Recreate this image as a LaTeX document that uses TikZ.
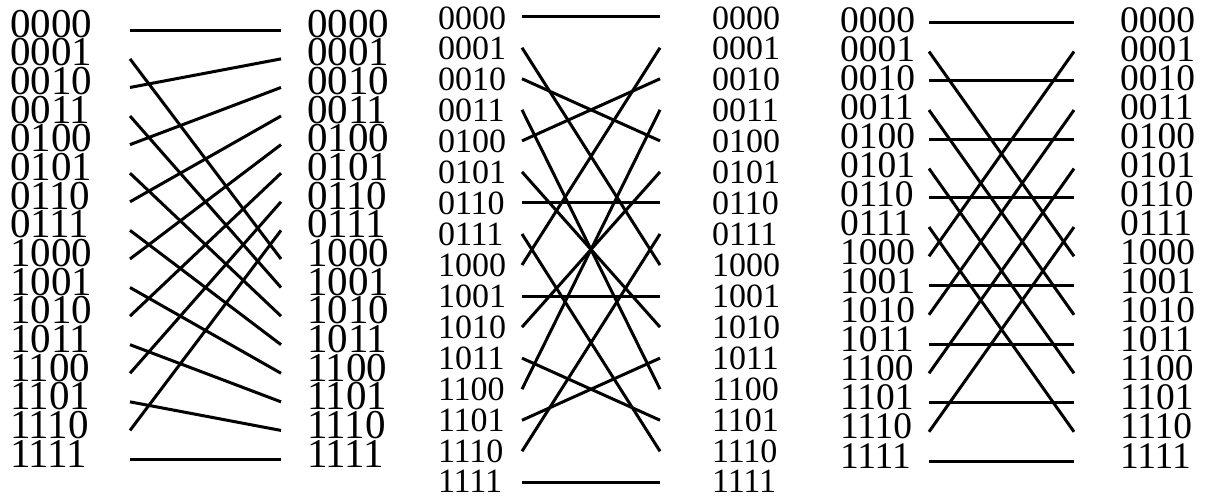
\documentclass[tikz,border=0pt]{standalone}
\usepackage{fontspec}
\setmainfont{Liberation Serif}
\begin{document}
\begin{tikzpicture}[x=1pt,y=-1pt,
  wire/.style={line width=3pt},
  lab/.style={anchor=base west, inner sep=0pt, outer sep=0pt}]
\useasboundingbox (0,0) rectangle (1209,499);
\def\codes{0000,0001,0010,0011,0100,0101,0110,0111,1000,1001,1010,1011,1100,1101,1110,1111}
% panel 1
\foreach \b [count=\i from 0] in \codes {
  \node[lab, font=\fontsize{41}{41}\selectfont] (aL\i) at (10, 37+28.67*\i) {\b};
  \node[lab, font=\fontsize{41}{41}\selectfont] (aR\i) at (307, 37+28.67*\i) {\b};
  \coordinate (aP\i) at (130, 30.3+28.58*\i);
  \coordinate (aQ\i) at (281, 30.3+28.58*\i);
}
\foreach \s/\t in {0/0,1/8,2/1,3/9,4/2,5/10,6/3,7/11,8/4,9/12,10/5,11/13,12/6,13/14,14/7,15/15}
  \draw[wire] (aP\s) -- (aQ\t);
% panel 2
\foreach \b [count=\i from 0] in \codes {
  \node[lab, font=\fontsize{34}{34}\selectfont] (bL\i) at (438, 29+30.93*\i) {\b};
  \node[lab, font=\fontsize{34}{34}\selectfont] (bR\i) at (712, 29+30.93*\i) {\b};
  \coordinate (bP\i) at (522, 16.7+31.04*\i);
  \coordinate (bQ\i) at (660, 16.7+31.04*\i);
}
\foreach \s/\t in {0/0,1/8,2/4,3/12,4/2,5/10,6/6,7/14,8/1,9/9,10/5,11/13,12/3,13/11,14/7,15/15}
  \draw[wire] (bP\s) -- (bQ\t);
% panel 3
\foreach \b [count=\i from 0] in \codes {
  \node[lab, font=\fontsize{37.5}{37.5}\selectfont] (cL\i) at (840, 32+29.07*\i) {\b};
  \node[lab, font=\fontsize{37.5}{37.5}\selectfont] (cR\i) at (1120, 32+29.07*\i) {\b};
  \coordinate (cP\i) at (929, 22.3+29.25*\i);
  \coordinate (cQ\i) at (1074, 22.3+29.25*\i);
}
\foreach \s/\t in {0/0,1/8,2/2,3/10,4/4,5/12,6/6,7/14,8/1,9/9,10/3,11/11,12/5,13/13,14/7,15/15}
  \draw[wire] (cP\s) -- (cQ\t);
\end{tikzpicture}
\end{document}
